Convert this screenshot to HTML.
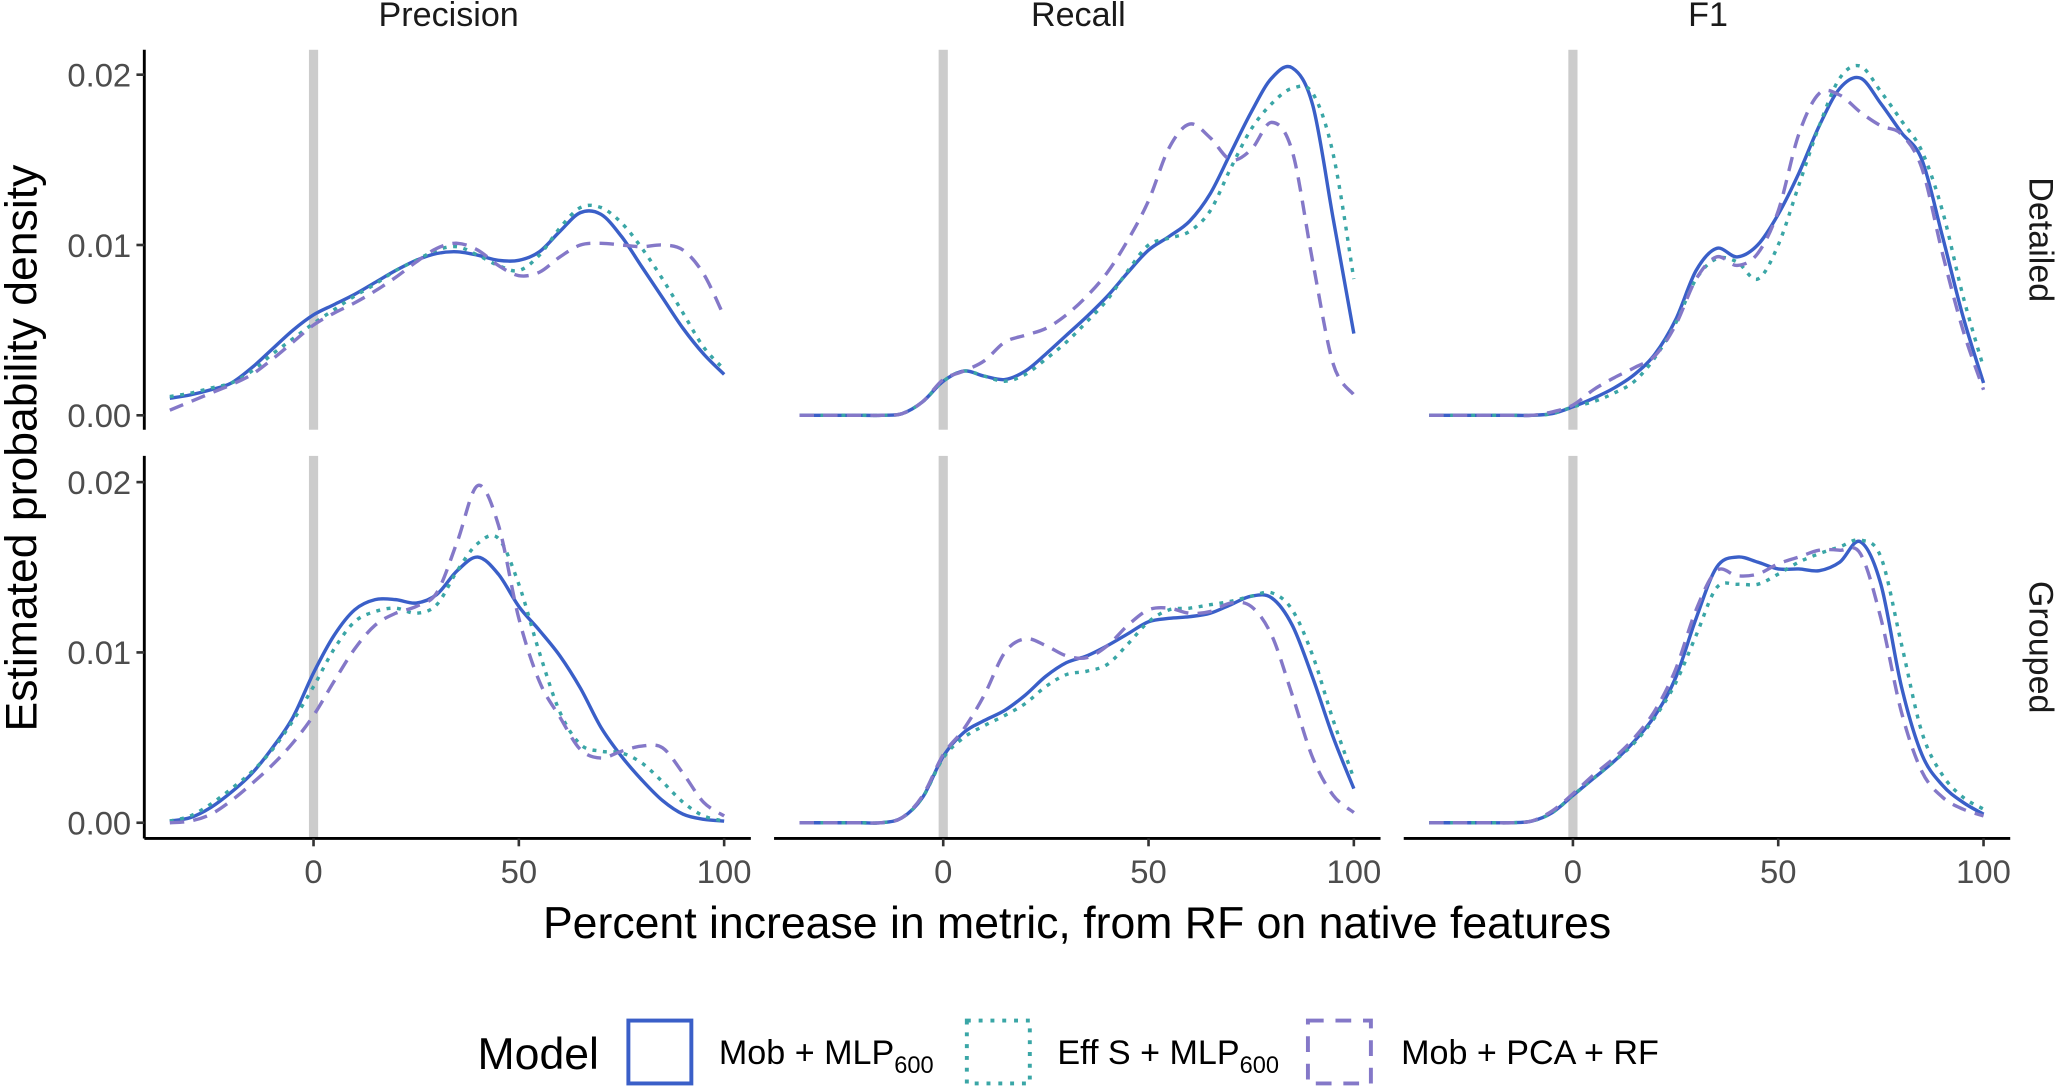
<!DOCTYPE html>
<html><head><meta charset="utf-8">
<style>
html,body{margin:0;padding:0;background:#fff;}
svg{display:block;}
text{font-family:"Liberation Sans",sans-serif;}
</style></head>
<body>
<svg id="chart" width="2057" height="1090" viewBox="0 0 1568 832" preserveAspectRatio="none" xmlns="http://www.w3.org/2000/svg">
<g id="grid-layer"></g>
<g id="curve-layer"></g>
<g id="axis-layer"></g>
<text x="342" y="20" font-size="26" text-anchor="middle" fill="#1a1a1a">Precision</text>
<text x="822" y="20" font-size="26" text-anchor="middle" fill="#1a1a1a">Recall</text>
<text x="1302" y="20" font-size="26" text-anchor="middle" fill="#1a1a1a">F1</text>
<text transform="translate(1547,183) rotate(90)" font-size="26" text-anchor="middle" fill="#1a1a1a">Detailed</text>
<text transform="translate(1547,494) rotate(90)" font-size="26" text-anchor="middle" fill="#1a1a1a">Grouped</text>
<text transform="translate(28,342) rotate(-90)" font-size="34" text-anchor="middle" fill="#000">Estimated probability density</text>
<text x="821" y="716" font-size="34" text-anchor="middle" fill="#000">Percent increase in metric, from RF on native features</text>
<g>
<text x="364" y="816" font-size="34" fill="#000">Model</text>
<rect x="479" y="779" width="48" height="48" fill="none" stroke="#3a5fc8" stroke-width="3"/>
<text x="548" y="812" font-size="26" fill="#000">Mob + MLP<tspan font-size="18" dy="7">600</tspan></text>
<rect x="737" y="779" width="48" height="48" fill="none" stroke="#3aa6a6" stroke-width="3" stroke-dasharray="3 6"/>
<text x="806" y="812" font-size="26" fill="#000">Eff S + MLP<tspan font-size="18" dy="7">600</tspan></text>
<rect x="997" y="779" width="48" height="48" fill="none" stroke="#8478c8" stroke-width="3" stroke-dasharray="12 9"/>
<text x="1068" y="812" font-size="26" fill="#000">Mob + PCA + RF</text>
</g>
</svg>
<script>
const xGrid = [-35,-30,-25,-20,-15,-10,-5,0,5,10,15,20,25,30,35,40,45,50,55,60,65,70,75,80,85,90,95,100];
const metrics = ["Precision","Recall","F1"];
const groupings = ["Detailed","Grouped"];
const modelNames = ["Mob + MLP600","Eff S + MLP600","Mob + PCA + RF"];
const yTicks = [0, 0.01, 0.02];
const yTickLabels = ["0.00","0.01","0.02"];
const xTicks = [0, 50, 100];
const xTickLabels = ["0","50","100"];
// densities in units of 0.001
const precDetSolid  = [1.0,1.2,1.5,1.9,2.8,3.9,5.0,5.9,6.5,7.1,7.8,8.5,9.1,9.5,9.6,9.4,9.1,9.1,9.6,10.8,11.9,11.8,10.5,8.7,6.9,5.1,3.6,2.4];
const precDetDot    = [1.1,1.3,1.6,1.9,2.6,3.6,4.5,5.4,6.2,7.0,7.7,8.5,9.1,9.7,9.9,9.4,8.8,8.5,9.4,11.0,12.2,12.2,11.3,9.8,8.0,6.0,4.0,2.7];
const precDetDash   = [0.3,0.8,1.3,1.8,2.4,3.3,4.3,5.3,6.0,6.6,7.3,8.1,9.0,9.8,10.1,9.7,8.8,8.2,8.4,9.3,10.0,10.1,10.0,9.9,10.0,9.7,8.3,5.8];
const recDetSolid   = [0,0,0,0,0,0.1,0.8,2.0,2.6,2.3,2.1,2.6,3.6,4.7,5.8,7.0,8.4,9.7,10.5,11.4,13.0,15.4,17.8,19.8,20.4,18.2,11.5,4.8];
const recDetDot     = [0,0,0,0,0,0.1,0.8,2.0,2.6,2.3,2.0,2.4,3.3,4.3,5.5,6.8,8.5,10.0,10.4,10.8,12.0,14.5,16.8,18.3,19.2,18.9,15.3,8.0];
const recDetDash    = [0,0,0,0,0,0.1,0.8,2.1,2.6,3.2,4.3,4.7,5.1,5.9,7.0,8.4,10.3,12.6,15.7,17.1,16.3,15.0,15.6,17.2,15.5,9.0,3.0,1.2];
const f1DetSolid    = [0,0,0,0,0,0,0.1,0.5,1.0,1.6,2.4,3.6,5.6,8.5,9.8,9.3,10.0,11.8,14.2,17.0,19.2,19.8,18.3,16.6,15.0,10.5,5.8,1.9];
const f1DetDot      = [0,0,0,0,0,0,0.1,0.5,0.8,1.3,2.0,3.4,5.4,8.0,9.2,9.0,8.0,10.0,13.5,17.0,19.8,20.5,19.0,17.3,15.5,12.0,7.0,2.8];
const f1DetDash     = [0,0,0,0,0,0,0.2,0.6,1.5,2.2,2.8,3.5,5.3,8.0,9.3,8.8,9.5,12.0,16.5,18.9,18.8,17.8,17.0,16.5,14.5,9.5,5.0,1.5];
const precGrpSolid  = [0.1,0.3,0.9,1.8,2.9,4.4,6.2,8.8,11.0,12.5,13.1,13.1,12.9,13.4,14.8,15.6,14.6,12.7,11.3,9.8,7.9,5.6,3.9,2.5,1.3,0.5,0.2,0.1];
const precGrpDot    = [0.1,0.4,1.1,2.0,3.0,4.3,6.0,8.0,10.2,11.8,12.4,12.6,12.3,12.8,14.8,16.4,16.7,14.0,10.0,6.5,4.6,4.2,4.1,3.5,2.4,1.2,0.4,0.1];
const precGrpDash   = [0,0.1,0.5,1.3,2.3,3.4,4.7,6.3,8.3,10.2,11.6,12.3,12.7,13.5,16.5,19.8,17.5,12.0,8.3,6.2,4.3,3.8,4.2,4.5,4.4,2.9,1.2,0.4];
const recGrpSolid   = [0,0,0,0,0,0.3,1.5,3.9,5.3,6.0,6.6,7.5,8.6,9.4,9.8,10.4,11.1,11.8,12.0,12.1,12.3,12.8,13.3,13.2,11.6,8.5,5.0,2.0];
const recGrpDot     = [0,0,0,0,0,0.3,1.5,3.8,5.0,5.7,6.3,7.0,8.0,8.7,8.9,9.3,10.5,11.8,12.5,12.6,12.8,13.0,13.3,13.5,12.5,9.8,6.0,2.6];
const recGrpDash    = [0,0,0,0,0,0.3,1.6,4.0,5.5,7.5,10.0,10.8,10.4,9.8,9.7,10.4,11.6,12.5,12.6,12.3,12.4,12.9,12.7,11.0,7.5,3.8,1.6,0.6];
const f1GrpSolid    = [0,0,0,0,0,0.1,0.6,1.6,2.6,3.6,4.8,6.3,8.5,12.0,15.0,15.6,15.3,14.9,14.9,14.8,15.3,16.5,14.0,8.0,4.0,2.2,1.2,0.5];
const f1GrpDot      = [0,0,0,0,0,0.1,0.6,1.6,2.6,3.6,4.7,6.2,8.2,11.0,13.8,14.0,14.0,14.6,15.3,15.8,16.2,16.6,15.6,10.5,5.3,2.8,1.5,0.8];
const f1GrpDash     = [0,0,0,0,0,0.1,0.7,1.7,2.8,3.8,5.0,6.6,9.0,12.5,14.8,14.5,14.6,15.2,15.6,16.0,16.0,15.8,12.0,6.5,3.0,1.5,0.8,0.4];

const panels = [
  [precDetSolid,precDetDot,precDetDash],[recDetSolid,recDetDot,recDetDash],[f1DetSolid,f1DetDot,f1DetDash],
  [precGrpSolid,precGrpDot,precGrpDash],[recGrpSolid,recGrpDot,recGrpDash],[f1GrpSolid,f1GrpDot,f1GrpDash]
];
const NS = "http://www.w3.org/2000/svg";
const colZero = [239, 719, 1199];
const rowBase = [317, 628];
const rowTop = [38, 348];
const rowBottom = [328, 640];
const pxPerUnit = 156.5/50;
const pxPerDensity = 13000;
const xMinV = -41.2, xMaxV = 106.5;
function xScale(c, v){ return colZero[c] + v*pxPerUnit; }
function yScale(r, d){ return rowBase[r] - d*pxPerDensity; }
const styles = [
  {stroke:"#3a5fc8", dash:"", name:"solid"},
  {stroke:"#3aa6a6", dash:"3 5", name:"dotted"},
  {stroke:"#8478c8", dash:"11 7", name:"dashed"}
];
const gridL = document.getElementById("grid-layer");
const curveL = document.getElementById("curve-layer");
const axisL = document.getElementById("axis-layer");
function mk(tag, attrs, parent){
  const e = document.createElementNS(NS, tag);
  for (const k in attrs) e.setAttribute(k, attrs[k]);
  parent.appendChild(e);
  return e;
}
function smoothPath(pts){
  let d = "M" + pts[0][0].toFixed(2) + "," + pts[0][1].toFixed(2);
  for (let i = 0; i < pts.length-1; i++){
    const p0 = pts[Math.max(0,i-1)], p1 = pts[i], p2 = pts[i+1], p3 = pts[Math.min(pts.length-1,i+2)];
    const c1x = p1[0] + (p2[0]-p0[0])/6, c1y = p1[1] + (p2[1]-p0[1])/6;
    const c2x = p2[0] - (p3[0]-p1[0])/6, c2y = p2[1] - (p3[1]-p1[1])/6;
    d += "C" + c1x.toFixed(2) + "," + c1y.toFixed(2) + " " + c2x.toFixed(2) + "," + c2y.toFixed(2) + " " + p2[0].toFixed(2) + "," + p2[1].toFixed(2);
  }
  return d;
}
for (let r = 0; r < 2; r++){
  for (let c = 0; c < 3; c++){
    const zl = mk("rect", {x: xScale(c,0)-3.5, y: rowTop[r], width: 7, height: rowBottom[r]-rowTop[r], fill:"#cccccc"}, gridL);
    
    
    const series = panels[r*3+c];
    for (let s = 0; s < 3; s++){
      const pts = xGrid.map((x,i) => [xScale(c,x), yScale(r, series[s][i]/1000)]);
      const p = mk("path", {d: smoothPath(pts), fill:"none", stroke: styles[s].stroke, "stroke-width": 2.6, "stroke-dasharray": styles[s].dash, "stroke-linejoin":"round"}, curveL);
      
      
    }
  }
  const ya = mk("line", {x1:110, x2:110, y1:rowTop[r], y2:rowBottom[r], stroke:"#000", "stroke-width":2.2}, axisL);
  
  
  yTicks.forEach((t,i) => {
    const y = yScale(r, t);
    const tk = mk("line", {x1:104, x2:110, y1:y, y2:y, stroke:"#333", "stroke-width":2}, axisL);
    
    
    const tl = mk("text", {x:100, y:y+9, "font-size":25, "text-anchor":"end", fill:"#4d4d4d"}, axisL);
    tl.textContent = yTickLabels[i];
    
    
  });
}
for (let c = 0; c < 3; c++){
  const xa = mk("line", {x1:xScale(c,xMinV), x2:xScale(c,xMaxV), y1:640, y2:640, stroke:"#000", "stroke-width":2.2}, axisL);
  
  
  xTicks.forEach((t,i) => {
    const x = xScale(c,t);
    const tk = mk("line", {x1:x, x2:x, y1:640, y2:646, stroke:"#333", "stroke-width":2}, axisL);
    
    
    const tl = mk("text", {x:x, y:674, "font-size":25, "text-anchor":"middle", fill:"#4d4d4d"}, axisL);
    tl.textContent = xTickLabels[i];
    
    
  });
}
</script>
</body></html>
